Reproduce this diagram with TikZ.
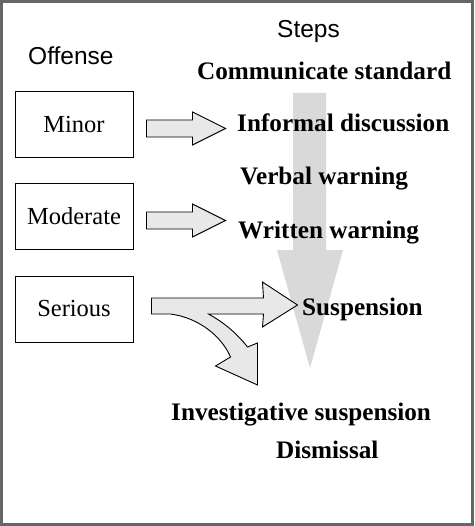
\documentclass[tikz,border=0pt]{standalone}
\usepackage{fontspec}
\setmainfont{Liberation Serif}
\setsansfont{Liberation Sans}
\usetikzlibrary{positioning, calc}

\begin{document}
\begin{tikzpicture}[x=1pt, y=-1pt,
    offbox/.style={draw, line width=1pt, minimum width=118pt, minimum height=66pt, font=\fontsize{24.5}{28}\selectfont},
    steptext/.style={anchor=base west, inner sep=0pt, font=\fontsize{25.2}{28}\selectfont\bfseries},
    heading/.style={anchor=base west, inner sep=0pt, font=\fontsize{24.5}{28}\selectfont\sffamily},
    blockarrow/.style={draw, fill=gray!18, line width=0.9pt, line join=miter}]
\useasboundingbox (0,0) rectangle (474,526);

    % Frame
    \draw[line width=3pt, black!60] (1.5,1.5) rectangle (472.5,524.5);

    % Escalation arrow (background)
    \fill[gray!30] (293,93) -- (326,93) -- (326,250) -- (343,250) -- (310,368) -- (277,250) -- (293,250) -- cycle;

    % Headings
    \node[heading] (steps) at (277,38) {Steps};
    \node[heading] (offense) at (28,65) {Offense};

    % Offense boxes
    \foreach \name/\txt/\y in {minor/Minor/125, moderate/Moderate/216.5, serious/Serious/309} {
        \node[offbox] (\name) at (74,\y) {\txt};
    }

    % Steps
    \foreach \name/\txt/\x/\y in {comm/Communicate standard/197/80, informal/Informal discussion/237/132,
        verbal/Verbal warning/240/185, written/Written warning/238/238, susp/Suspension/302/315,
        invest/Investigative suspension/171/420, dismissal/Dismissal/276/458} {
        \node[steptext] (\name) at (\x,\y) {\txt};
    }

    % Straight block arrows
    \foreach \src/\dy in {minor/3.5, moderate/4} {
        \draw[blockarrow] ($(\src.east)+(13,\dy)$) ++(0,-8.5) -- ++(46,0) -- ++(0,-8) -- ++(33,16.5)
            -- ++(-33,16.5) -- ++(0,-8) -- ++(-46,0) -- cycle;
    }

    % Split arrow from serious
    \begin{scope}[shift={(serious.east)}]
        \draw[blockarrow] (18,-11) -- (130,-11) -- (129,-27) -- (164,-4) -- (129,18) -- (130,5) -- (75,5)
            .. controls (95,16) and (107,29) .. (114,38) -- (124,34) -- (124,76) -- (82,57) -- (97,48)
            .. controls (89,29) and (67,9) .. (37,5) -- (18,5) -- cycle;
    \end{scope}
\end{tikzpicture}
\end{document}
